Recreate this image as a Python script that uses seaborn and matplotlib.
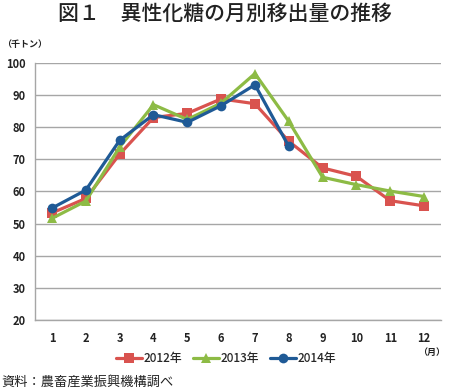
import matplotlib
matplotlib.use("Agg")
import matplotlib.pyplot as plt
import seaborn as sns
import pandas as pd
import numpy as np
from matplotlib.lines import Line2D

months = list(range(1, 13))
v2012 = [53.3, 57.8, 71.6, 83.0, 84.3, 88.8, 87.3, 75.6, 67.3, 64.7, 57.1, 55.5]
v2013 = [51.6, 57.0, 73.8, 87.0, 82.4, 87.5, 96.7, 81.8, 64.4, 62.1, 60.1, 58.4]
v2014 = [54.8, 60.4, 75.9, 83.9, 81.5, 86.7, 93.2, 74.0]
years = ["2012年", "2013年", "2014年"]
yticks = [20, 30, 40, 50, 60, 70, 80, 90, 100]
title = "図１　異性化糖の月別移出量の推移"
ylabel = "（千トン）"
xlabel = "（月）"
source = "資料：農畜産業振興機構調べ"

rows = []
for yr, vals in zip(years, [v2012, v2013, v2014]):
    for m, v in zip(months, vals):
        rows.append({"month": m, "value": v, "year": yr})
df = pd.DataFrame(rows)

sns.set_style("white")
plt.rcParams["font.family"] = ["Noto Sans CJK JP", "DejaVu Sans"]

colors = {"2012年": "#D9534F", "2013年": "#8DBB45", "2014年": "#1F5A96"}
markers = {"2012年": "s", "2013年": "^", "2014年": "o"}

fig = plt.figure(figsize=(4.5, 3.91), dpi=100)
ax = fig.add_axes([0.078, 0.182, 0.902, 0.657])

sns.lineplot(data=df, x="month", y="value", hue="year", style="year",
             palette=colors, markers=markers, dashes=False, ax=ax,
             linewidth=2.3, markersize=7, markeredgewidth=0, legend=False)

ax.set_xlim(0.5, 12.5)
ax.set_ylim(20, 100)
ax.set_yticks(yticks)
ax.set_xticks(months)
ax.set_xticks(np.arange(0.5, 13, 1), minor=True)
ax.set_xlabel("")
ax.set_ylabel("")
ax.grid(axis="y", color="#A6A6A6", linewidth=1)
ax.set_axisbelow(True)
for s in ["top", "right"]:
    ax.spines[s].set_visible(False)
for s in ["left", "bottom"]:
    ax.spines[s].set_color("#A6A6A6")
    ax.spines[s].set_linewidth(1)
ax.tick_params(axis="x", which="major", length=0, pad=9, labelsize=8, colors="#222222")
ax.tick_params(axis="x", which="minor", length=4, color="#A6A6A6", direction="out")
ax.tick_params(axis="y", length=4, color="#A6A6A6", labelsize=8, colors="#222222", pad=3)
for lab in ax.get_xticklabels() + ax.get_yticklabels():
    lab.set_fontweight("bold")

fig.text(0.5, 0.965, title, ha="center", va="center", fontsize=15, fontweight="medium", color="#222222")
fig.text(0.005, 0.885, ylabel, ha="left", va="center", fontsize=6.5, fontweight="bold", color="#222222")
fig.text(0.99, 0.098, xlabel, ha="right", va="center", fontsize=6.5, fontweight="bold", color="#222222")
fig.text(0.003, 0.022, source, ha="left", va="center", fontsize=9.5, color="#222222")

handles = [Line2D([0], [0], color=colors[y], marker=markers[y], linewidth=2.3,
                  markersize=7, markeredgewidth=0) for y in years]
leg = fig.legend(handles, years, loc="center", bbox_to_anchor=(0.503, 0.083), ncol=3,
                 frameon=False, fontsize=8.5, handlelength=2.2, columnspacing=0.9,
                 handletextpad=0.15)
for t in leg.get_texts():
    t.set_fontweight("medium")

fig.savefig("out.png", dpi=100)
